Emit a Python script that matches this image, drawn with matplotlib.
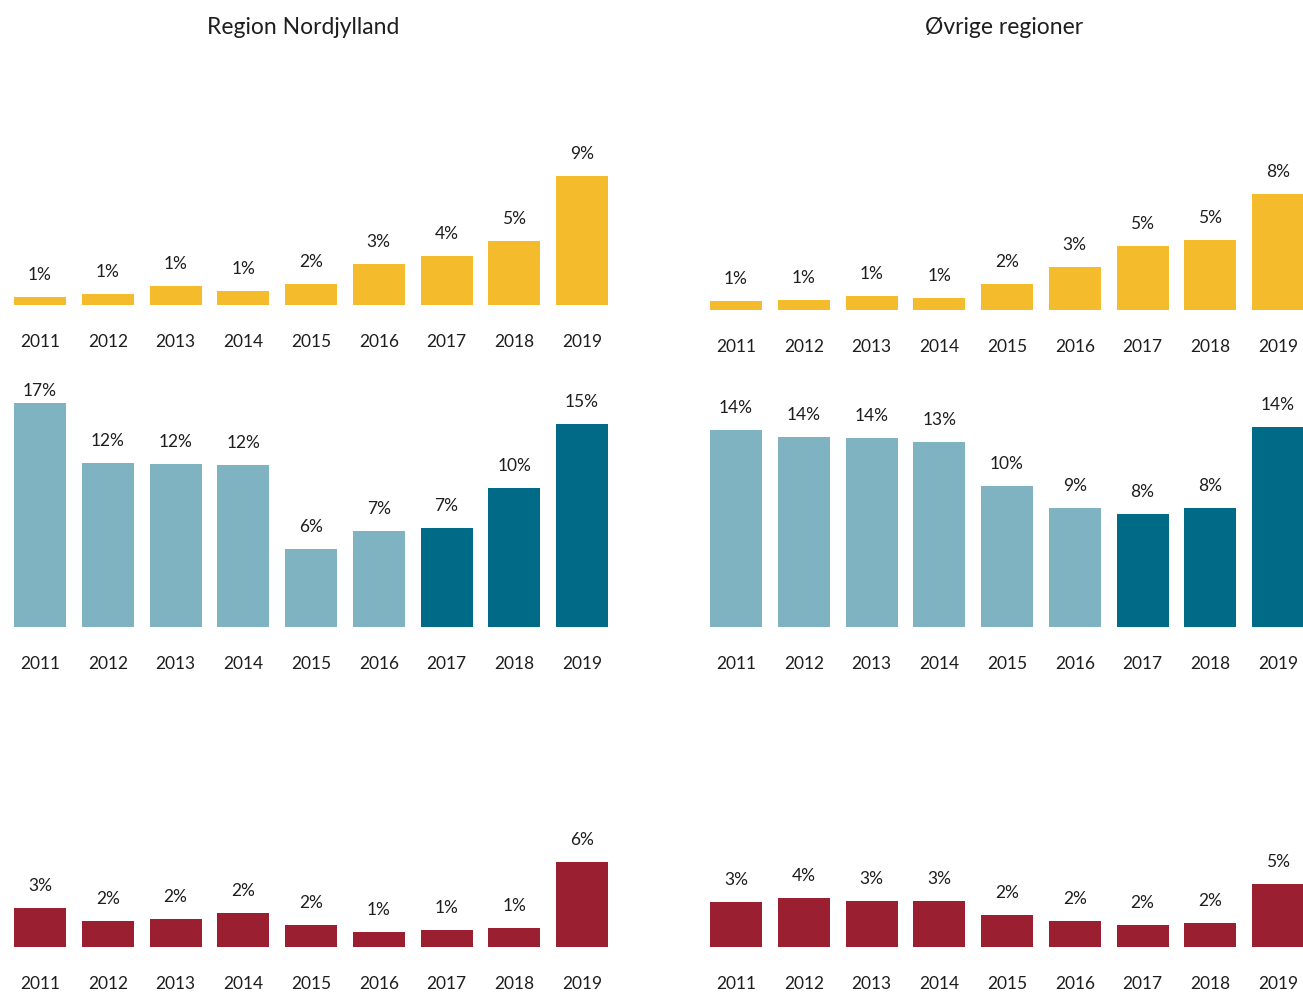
import matplotlib
matplotlib.use("Agg")
import matplotlib.pyplot as plt

W, H = 1303, 993
years = ["2011", "2012", "2013", "2014", "2015", "2016", "2017", "2018", "2019"]

# values in % and printed labels
nord_top = [0.62, 0.79, 1.41, 1.01, 1.59, 3.07, 3.63, 4.77, 9.53]
nord_top_lbl = ["1%", "1%", "1%", "1%", "2%", "3%", "4%", "5%", "9%"]
nord_mid = [16.57, 12.13, 12.05, 11.98, 5.76, 7.09, 7.36, 10.33, 15.07]
nord_mid_lbl = ["17%", "12%", "12%", "12%", "6%", "7%", "7%", "10%", "15%"]
nord_bot = [2.89, 1.93, 2.07, 2.52, 1.63, 1.11, 1.26, 1.41, 6.30]
nord_bot_lbl = ["3%", "2%", "2%", "2%", "2%", "1%", "1%", "1%", "6%"]

ovr_top = [0.67, 0.74, 1.04, 0.89, 1.93, 3.19, 4.74, 5.19, 8.59]
ovr_top_lbl = ["1%", "1%", "1%", "1%", "2%", "3%", "5%", "5%", "8%"]
ovr_mid = [14.59, 14.07, 14.00, 13.70, 10.44, 8.81, 8.37, 8.81, 14.81]
ovr_mid_lbl = ["14%", "14%", "14%", "13%", "10%", "9%", "8%", "8%", "14%"]
ovr_bot = [3.36, 3.61, 3.41, 3.43, 2.37, 1.95, 1.61, 1.76, 4.69]
ovr_bot_lbl = ["3%", "4%", "3%", "3%", "2%", "2%", "2%", "2%", "5%"]

titles = ["Region Nordjylland", "Øvrige regioner"]

YELLOW = "#F4BC2D"
LIGHT = "#80B3C2"
DARK = "#006A87"
RED = "#9A1F31"
TXT = "#1e1e1e"

mid_colors = [LIGHT] * 6 + [DARK] * 3
FONT = ["Lato", "DejaVu Sans"]

plt.rcParams["font.family"] = FONT

fig = plt.figure(figsize=(W / 100, H / 100), dpi=100)

PX_PER_PCT = 13.5
SPACING = 67.75
BAR_W = 52 / SPACING
LABEL_GAP = 22      # px between bar top and label centre
LABEL_MAX = 236     # px above baseline, labels are kept below this

def panel(first_center, baseline, values, labels, colors):
    left = first_center - SPACING / 2
    width = SPACING * 9
    hpx = 260
    ax = fig.add_axes([left / W, 1 - baseline / H, width / W, hpx / H])
    ax.set_xlim(-0.5, 8.5)
    ax.set_ylim(0, hpx / PX_PER_PCT)
    ax.axis("off")
    xs = list(range(len(values)))
    ax.bar(xs, values, width=BAR_W, color=colors, linewidth=0)
    for i, (v, lbl) in enumerate(zip(values, labels)):
        top_px = v * PX_PER_PCT
        gap = min(LABEL_GAP, LABEL_MAX - top_px)
        ax.annotate(lbl, (i, v), xytext=(0, gap * 0.72), textcoords="offset points",
                    ha="center", va="center", fontsize=12.5, color=TXT,
                    annotation_clip=False)
        ax.annotate(years[i], (i, 0), xytext=(0, -37 * 0.72), textcoords="offset points",
                    ha="center", va="center", fontsize=12.5, color=TXT,
                    annotation_clip=False)
    return ax

panel(40, 305, nord_top, nord_top_lbl, YELLOW)
panel(40, 627, nord_mid, nord_mid_lbl, mid_colors)
panel(40, 947, nord_bot, nord_bot_lbl, RED)
panel(736, 310, ovr_top, ovr_top_lbl, YELLOW)
panel(736, 627, ovr_mid, ovr_mid_lbl, mid_colors)
panel(736, 947, ovr_bot, ovr_bot_lbl, RED)

fig.text(303 / W, 1 - 27 / H, titles[0], ha="center", va="center", fontsize=16.5, color=TXT)
fig.text(1004 / W, 1 - 27 / H, titles[1], ha="center", va="center", fontsize=16.5, color=TXT)

fig.savefig("out.png", dpi=100, facecolor="white")
